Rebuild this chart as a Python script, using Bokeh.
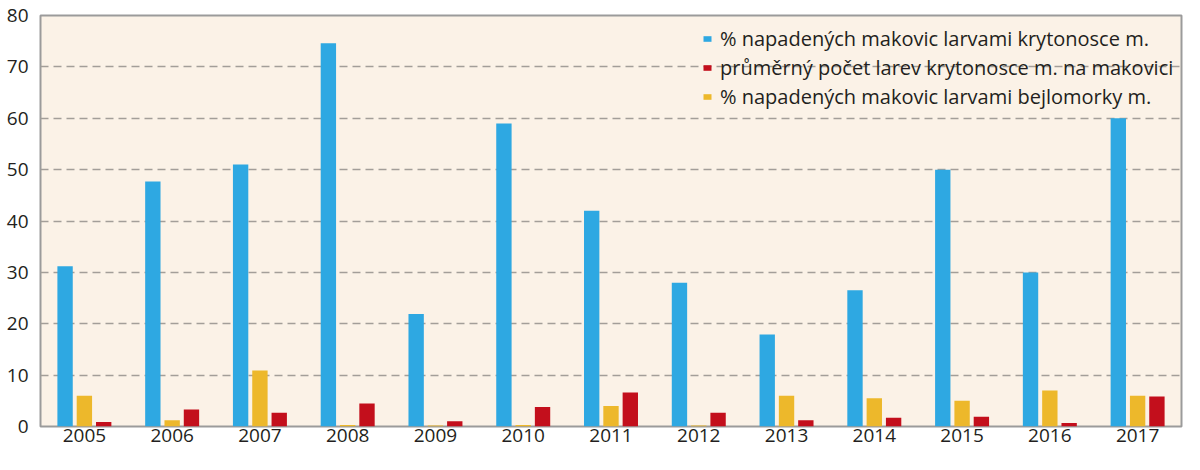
from bokeh.plotting import figure
from bokeh.models import ColumnDataSource, FactorRange, Legend, LegendItem, SingleIntervalTicker
from bokeh.transform import dodge
from bokeh.embed import file_html
from bokeh.resources import INLINE

years = ["2005", "2006", "2007", "2008", "2009", "2010", "2011",
         "2012", "2013", "2014", "2015", "2016", "2017"]
krytonosce_pct = [31.2, 47.7, 51.0, 74.6, 21.9, 59.0, 42.0, 28.0, 17.9, 26.5, 50.0, 30.0, 60.0]
bejlomorka_pct = [6.0, 1.2, 10.9, 0.3, 0.2, 0.3, 4.0, 0.2, 6.0, 5.5, 5.0, 7.0, 6.0]
larvy_prumer = [0.9, 3.3, 2.7, 4.5, 1.0, 3.8, 6.6, 2.7, 1.2, 1.7, 1.9, 0.7, 5.85]

labels = ["% napadených makovic larvami krytonosce m.",
          "průměrný počet larev krytonosce m. na makovici",
          "% napadených makovic larvami bejlomorky m."]

BLUE = "#2EA8E2"
RED = "#C30F1C"
YELLOW = "#EDB82B"
BG = "#FBF2E7"
FONT = "Open Sans"
TXT = "#231F20"

src = ColumnDataSource(dict(year=years, kp=krytonosce_pct, bp=bejlomorka_pct, lp=larvy_prumer))

p = figure(x_range=FactorRange(*years, range_padding=0), y_range=(0, 80),
           width=1184, height=454, output_backend="svg", toolbar_location=None,
           min_border_left=40, min_border_top=15, min_border_right=3, min_border_bottom=28,
           background_fill_color=BG, border_fill_color="white")

bw = 0.175
r_blue = p.vbar(x=dodge("year", -0.22, range=p.x_range), top="kp", width=bw, source=src,
                fill_color=BLUE, line_color=None)
r_yel = p.vbar(x=dodge("year", 0.0, range=p.x_range), top="bp", width=bw, source=src,
               fill_color=YELLOW, line_color=None)
r_red = p.vbar(x=dodge("year", 0.22, range=p.x_range), top="lp", width=bw, source=src,
               fill_color=RED, line_color=None)

p.outline_line_color = "#9B9B9B"
p.outline_line_width = 2

p.xgrid.grid_line_color = None
p.ygrid.grid_line_color = "#A39E99"
p.ygrid.grid_line_dash = "8 5"
p.ygrid.grid_line_width = 1.5
p.yaxis.ticker = SingleIntervalTicker(interval=10)

for ax in (p.xaxis, p.yaxis):
    ax.axis_line_color = None
    ax.major_tick_line_color = None
    ax.major_tick_out = 0
    ax.major_tick_in = 0
    ax.minor_tick_line_color = None
    ax.minor_tick_out = 0
    ax.major_label_text_font = FONT
    ax.major_label_text_font_size = "19px"
    ax.major_label_text_color = TXT
p.yaxis.major_label_standoff = 12
p.xaxis.major_label_standoff = 2

legend = Legend(items=[LegendItem(label=labels[0], renderers=[r_blue]),
                       LegendItem(label=labels[1], renderers=[r_red]),
                       LegendItem(label=labels[2], renderers=[r_yel])],
                location=(662, 316))
legend.background_fill_alpha = 0
legend.border_line_color = None
legend.label_text_font = FONT
legend.label_text_font_size = "20px"
legend.label_text_color = TXT
legend.label_height = 20
legend.glyph_width = 10
legend.glyph_height = 7
legend.label_standoff = 8
legend.spacing = 2
legend.padding = 4
legend.margin = 0
p.add_layout(legend)

open("out.html", "w").write(file_html(p, INLINE))
